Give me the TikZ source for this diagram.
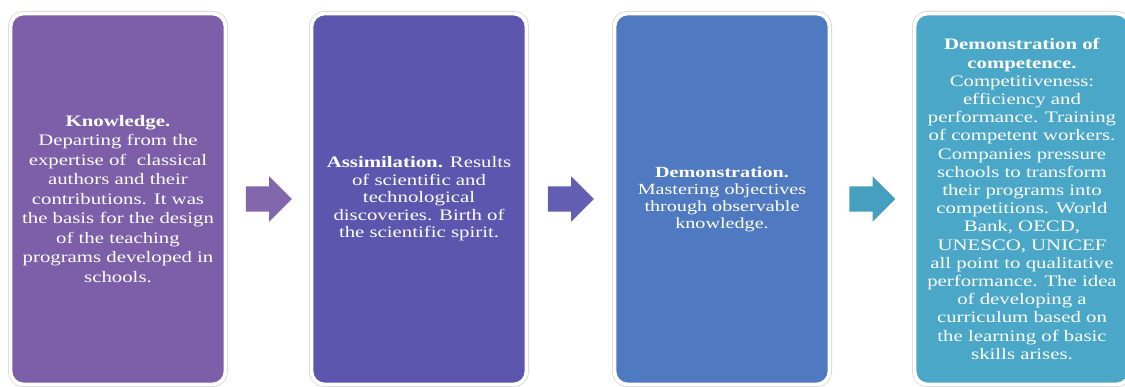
\documentclass[tikz,border=0pt]{standalone}
\usepackage{fontspec}
\setmainfont{Liberation Serif}[FakeStretch=1.3]
\usetikzlibrary{shapes.arrows,calc}
\definecolor{knowcol}{RGB}{124,95,168}
\definecolor{assimcol}{RGB}{92,86,174}
\definecolor{democol}{RGB}{79,121,192}
\definecolor{compcol}{RGB}{74,167,200}
\tikzset{stage node/.style={rectangle,rounded corners=13pt,draw=white,line width=3.8pt,
    preaction={draw=black!20,line width=5pt},minimum width=215pt,minimum height=371pt,
    inner sep=0pt,text=white,align=center},
  step arrow/.style={single arrow,single arrow head extend=10pt,minimum width=45pt,
    minimum height=46pt,inner xsep=0pt,inner ysep=12.5pt,xshift=-6pt},}

\begin{document}
\begin{tikzpicture}[x=1pt,y=1pt]
  \useasboundingbox (0,0) rectangle (1125,387);
 %% Nodes
  \node[stage node,fill=knowcol,font={\fontsize{16}{19.5}\selectfont}] (1) at (118,188)
    {\textbf{Knowledge.}\\Departing from the\\expertise of~ classical\\authors and their\\
     contributions. It was\\the basis for the design\\of the teaching\\
     programs developed in\\schools.};
  \node[stage node,fill=assimcol,font={\fontsize{16}{17.5}\selectfont}] (2) at (419,188)
    {\textbf{Assimilation.} Results\\of scientific and\\technological\\
     discoveries. Birth of\\the scientific spirit.};
  \node[stage node,fill=democol,font={\fontsize{15.5}{17}\selectfont}] (3) at (722,188)
    {\textbf{Demonstration.}\\Mastering objectives\\through observable\\knowledge.};
  \node[stage node,fill=compcol,font={\fontsize{16}{18.2}\selectfont}] (4) at (1022,188)
    {\textbf{Demonstration of}\\\textbf{competence.}\\Competitiveness:\\efficiency and\\
     performance. Training\\of competent workers.\\Companies pressure\\
     schools to transform\\their programs into\\competitions. World\\
     Bank, OECD,\\UNESCO, UNICEF\\all point to qualitative\\
     performance. The idea\\of developing a\\curriculum based on\\
     the learning of basic\\skills arises.};
  %% Arrows
  \node[step arrow,fill=knowcol!95!white] (a1) at ($(1.east)!.5!(2.west)$) {};
  \node[step arrow,fill=assimcol!95!white] (a2) at ($(2.east)!.5!(3.west)$) {};
  \node[step arrow,fill=compcol!95!black] (a3) at ($(3.east)!.5!(4.west)$) {};
\end{tikzpicture}
\end{document}
